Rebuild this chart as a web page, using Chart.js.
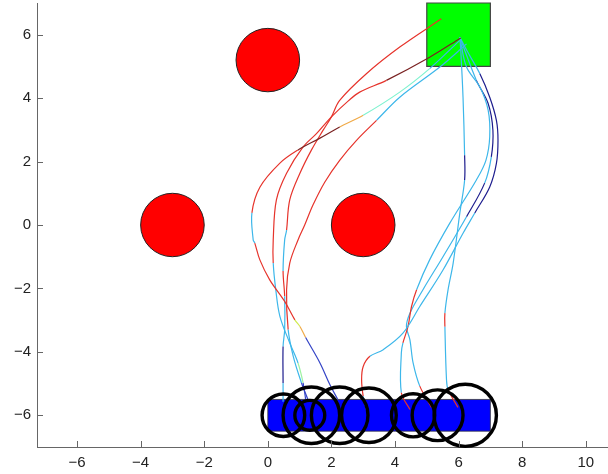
<!DOCTYPE html>
<html>
<head>
<meta charset="UTF-8">
<title>Robot trajectories</title>
<script src="https://cdn.jsdelivr.net/npm/chart.js"></script>
<style>
  body { margin: 0; background: #fff; }
</style>
</head>
<body>
<canvas id="chart" width="608" height="474"></canvas>
<script>
// axes
const xTicks = [-6, -4, -2, 0, 2, 4, 6, 8, 10];
const yTicks = [-6, -4, -2, 0, 2, 4, 6];

// scene: goal square, obstacles, start strip, robots
const goalX = [5, 7];
const goalY = [5, 7];
const obstacleX = [0, -3, 3];
const obstacleY = [5.2, 0, 0];
const obstacleR = [1, 1, 1];
const baseX = [0, 7];
const baseY = [-6.5, -5.5];
const robotX = [0.49, 1.32, 1.37, 2.26, 3.18, 4.57, 5.34, 6.21];
const robotY = [-6, -6, -6, -6, -6, -6, -6, -6];
const robotR = [0.67, 0.47, 0.89, 0.89, 0.86, 0.68, 0.8, 0.98];

// trajectories (x, y, colour code of the segment that starts at each point)
const t1X = [6.04, 5.09, 4.15, 3.0, 2.26, 1.64, 0.94, 0.38, -0.25, -0.5, -0.46, -0.41, -0.25, 0.06, 0.53, 0.85, 1.01, 1.19, 1.64, 1.95, 2.2];
const t1Y = [5.82, 4.93, 4.19, 3.46, 3.09, 2.74, 2.36, 1.95, 1.19, 0.38, -0.47, -0.57, -1.1, -1.73, -2.41, -2.99, -3.2, -3.55, -4.35, -5.03, -5.5];
const t1C = ['C','A','A','O','D','D','R','R','R','C','C','R','R','R','R','Y','O','B','B','B','B'];

const t2X = [6.07, 5.09, 3.73, 2.89, 2.55, 2.0, 1.53, 1.11, 0.59, 0.27, 0.17, 0.17, 0.25, 0.38, 0.69, 0.95, 1.11, 1.19];
const t2Y = [5.9, 5.29, 4.56, 4.19, 3.93, 3.41, 2.88, 2.46, 1.63, 0.79, -0.47, -1.2, -2.04, -2.88, -3.72, -4.35, -4.98, -5.5];
const t2C = ['D','D','R','R','R','R','R','R','R','R','R','C','C','C','C','G','B','B'];

const t3X = [5.46, 4.15, 3.10, 2.26, 2.0, 1.74, 1.37, 1.01, 0.69, 0.59, 0.53, 0.48, 0.53, 0.53, 0.48, 0.48, 0.48];
const t3Y = [6.5, 5.61, 4.77, 3.93, 3.41, 2.99, 2.36, 1.63, 0.79, -0.16, -0.47, -1.45, -2.25, -3.3, -3.83, -4.98, -5.57];
const t3C = ['R','R','R','R','R','R','R','R','R','C','C','R','C','C','N','C','C'];

const t4X = [6.25, 5.41, 4.15, 3.42, 2.79, 2.26, 1.79, 1.42, 1.16, 0.95, 0.69, 0.59, 0.64, 0.80, 1.06, 1.26];
const t4Y = [5.71, 4.98, 4.03, 3.30, 2.67, 2.04, 1.35, 0.63, 0, -0.47, -1.2, -2.04, -3.3, -4.14, -4.98, -5.5];
const t4C = ['C','C','C','R','R','R','R','R','R','R','R','R','C','C','B','B'];

const r1X = [6.04, 6.07, 6.14, 6.19, 6.19, 6.04, 5.83, 5.67, 5.57, 5.57, 5.62, 5.67, 5.98];
const r1Y = [5.92, 5.5, 4.03, 2.2, 1.42, 0.38, -1.2, -2.04, -2.78, -3.21, -4.87, -5.19, -5.75];
const r1C = ['C','C','C','N','C','C','C','C','R','C','C','R','R'];

const r2X = [6.04, 6.26, 6.67, 6.98, 7.19, 7.24, 7.19, 6.98, 6.51, 6.14, 5.51, 4.78, 4.25, 3.63, 3.21, 3.0, 2.95, 3.0, 3.1];
const r2Y = [5.92, 5.5, 4.77, 4.03, 3.3, 2.67, 1.94, 1.2, 0.38, -0.26, -1.42, -2.57, -3.41, -3.93, -4.14, -4.46, -4.87, -5.4, -5.82];
const r2C = ['C','C','N','N','N','N','N','N','C','C','C','C','C','C','R','R','R','C','C'];

const r3X = [6.04, 6.25, 6.67, 6.93, 6.98, 6.86, 6.56, 5.72, 5.09, 4.68, 4.52, 4.41, 4.25, 4.2, 4.2, 4.47];
const r3Y = [5.92, 4.98, 4.35, 3.62, 2.78, 2.04, 1.42, 0.05, -1.1, -2.04, -2.57, -3.2, -3.72, -4.03, -5.29, -5.82];
const r3C = ['C','C','C','C','C','C','C','C','C','R','R','R','C','C','R','R'];

const r4X = [6.04, 6.56, 6.93, 7.08, 7.03, 6.82, 6.25, 5.51, 4.88, 4.47, 4.36, 4.47, 4.57, 4.78, 5.15];
const r4Y = [5.92, 4.56, 3.83, 2.99, 2.15, 1.32, 0.26, -1.0, -2.04, -2.78, -3.2, -3.62, -4.35, -5.08, -5.75];
const r4C = ['C','N','N','N','C','N','C','C','C','C','C','C','C','R','R'];

const palette = {
    C: '#3db7ea', A: '#7ef2cf', O: '#f0aa48', D: '#7a2222', R: '#e6332b',
    Y: '#cfea4c', B: '#3444c6', N: '#1d1d8e', G: '#9df2a2'
};
const axisColor = '#666';

function trajectory(xs, ys, cs) {
    return {
        data: xs.map((x, i) => ({ x: x, y: ys[i] })),
        borderWidth: 1.2,
        pointRadius: 0,
        tension: 0.35,
        fill: false,
        borderColor: palette[cs[0]],
        segment: { borderColor: ctx => palette[cs[ctx.p0DataIndex]] }
    };
}

const datasets = [
    trajectory(t1X, t1Y, t1C),
    trajectory(t2X, t2Y, t2C),
    trajectory(t3X, t3Y, t3C),
    trajectory(t4X, t4Y, t4C),
    trajectory(r1X, r1Y, r1C),
    trajectory(r2X, r2Y, r2C),
    trajectory(r3X, r3Y, r3C),
    trajectory(r4X, r4Y, r4C)
];

function ellipse(ctx, sx, sy, cx, cy, r) {
    const x = sx.getPixelForValue(cx), y = sy.getPixelForValue(cy);
    const rx = Math.abs(sx.getPixelForValue(cx + r) - x);
    const ry = Math.abs(sy.getPixelForValue(cy + r) - y);
    ctx.beginPath();
    ctx.ellipse(x, y, rx, ry, 0, 0, Math.PI * 2);
}

function box(ctx, sx, sy, xs, ys) {
    const x0 = sx.getPixelForValue(xs[0]), x1 = sx.getPixelForValue(xs[1]);
    const y0 = sy.getPixelForValue(ys[1]), y1 = sy.getPixelForValue(ys[0]);
    ctx.beginPath();
    ctx.rect(x0, y0, x1 - x0, y1 - y0);
}

const scenePlugin = {
    id: 'scene',
    beforeDatasetsDraw(chart) {
        const ctx = chart.ctx, sx = chart.scales.x, sy = chart.scales.y;
        ctx.save();
        box(ctx, sx, sy, baseX, baseY);
        ctx.fillStyle = '#0000ff';
        ctx.fill();
        ctx.lineWidth = 0.8;
        ctx.strokeStyle = '#333';
        ctx.stroke();

        box(ctx, sx, sy, goalX, goalY);
        ctx.fillStyle = '#00ff00';
        ctx.fill();
        ctx.lineWidth = 1.2;
        ctx.strokeStyle = '#444';
        ctx.stroke();

        for (let i = 0; i < obstacleX.length; i++) {
            ellipse(ctx, sx, sy, obstacleX[i], obstacleY[i], obstacleR[i]);
            ctx.fillStyle = '#ff0000';
            ctx.fill();
            ctx.lineWidth = 1;
            ctx.strokeStyle = '#222';
            ctx.stroke();
        }
        ctx.restore();
    },
    afterDatasetsDraw(chart) {
        const ctx = chart.ctx, sx = chart.scales.x, sy = chart.scales.y;
        ctx.save();
        ctx.lineWidth = 3.4;
        ctx.strokeStyle = '#000';
        for (let i = 0; i < robotX.length; i++) {
            ellipse(ctx, sx, sy, robotX[i], robotY[i], robotR[i]);
            ctx.stroke();
        }
        ctx.restore();
    },
    afterDraw(chart) {
        // inward tick marks, MATLAB style
        const ctx = chart.ctx, sx = chart.scales.x, sy = chart.scales.y, a = chart.chartArea;
        ctx.save();
        ctx.strokeStyle = axisColor;
        ctx.lineWidth = 1;
        ctx.beginPath();
        xTicks.forEach(v => {
            const x = Math.round(sx.getPixelForValue(v)) + 0.5;
            ctx.moveTo(x, a.bottom);
            ctx.lineTo(x, a.bottom - 6);
        });
        yTicks.forEach(v => {
            const y = Math.round(sy.getPixelForValue(v)) + 0.5;
            ctx.moveTo(a.left, y);
            ctx.lineTo(a.left + 6, y);
        });
        ctx.stroke();
        ctx.restore();
    }
};

const tickFont = { family: '"Liberation Sans", Arial, sans-serif', size: 15 };
const minus = v => String(v).replace('-', '\u2212');

new Chart(document.getElementById('chart').getContext('2d'), {
    type: 'line',
    data: { datasets: datasets },
    options: {
        responsive: false,
        animation: false,
        devicePixelRatio: 1,
        layout: { padding: { top: 3, right: 0, left: 0, bottom: 0 } },
        plugins: { legend: { display: false }, tooltip: { enabled: false } },
        scales: {
            x: {
                type: 'linear',
                min: -7.26,
                max: 10.7,
                afterBuildTicks: s => { s.ticks = xTicks.map(v => ({ value: v })); },
                afterFit: s => { s.height = 27; s.paddingLeft = 0; s.paddingRight = 0; },
                grid: { display: false, drawTicks: false },
                border: { display: true, color: axisColor, width: 1 },
                ticks: { font: tickFont, color: '#222', padding: 7, maxRotation: 0, callback: minus }
            },
            y: {
                type: 'linear',
                min: -7,
                max: 7,
                afterBuildTicks: s => { s.ticks = yTicks.map(v => ({ value: v })); },
                afterFit: s => { s.width = 37; s.paddingTop = 0; s.paddingBottom = 0; },
                grid: { display: false, drawTicks: false },
                border: { display: true, color: axisColor, width: 1 },
                ticks: { font: tickFont, color: '#222', padding: 6, callback: minus }
            }
        }
    },
    plugins: [scenePlugin]
});
</script>
</body>
</html>
